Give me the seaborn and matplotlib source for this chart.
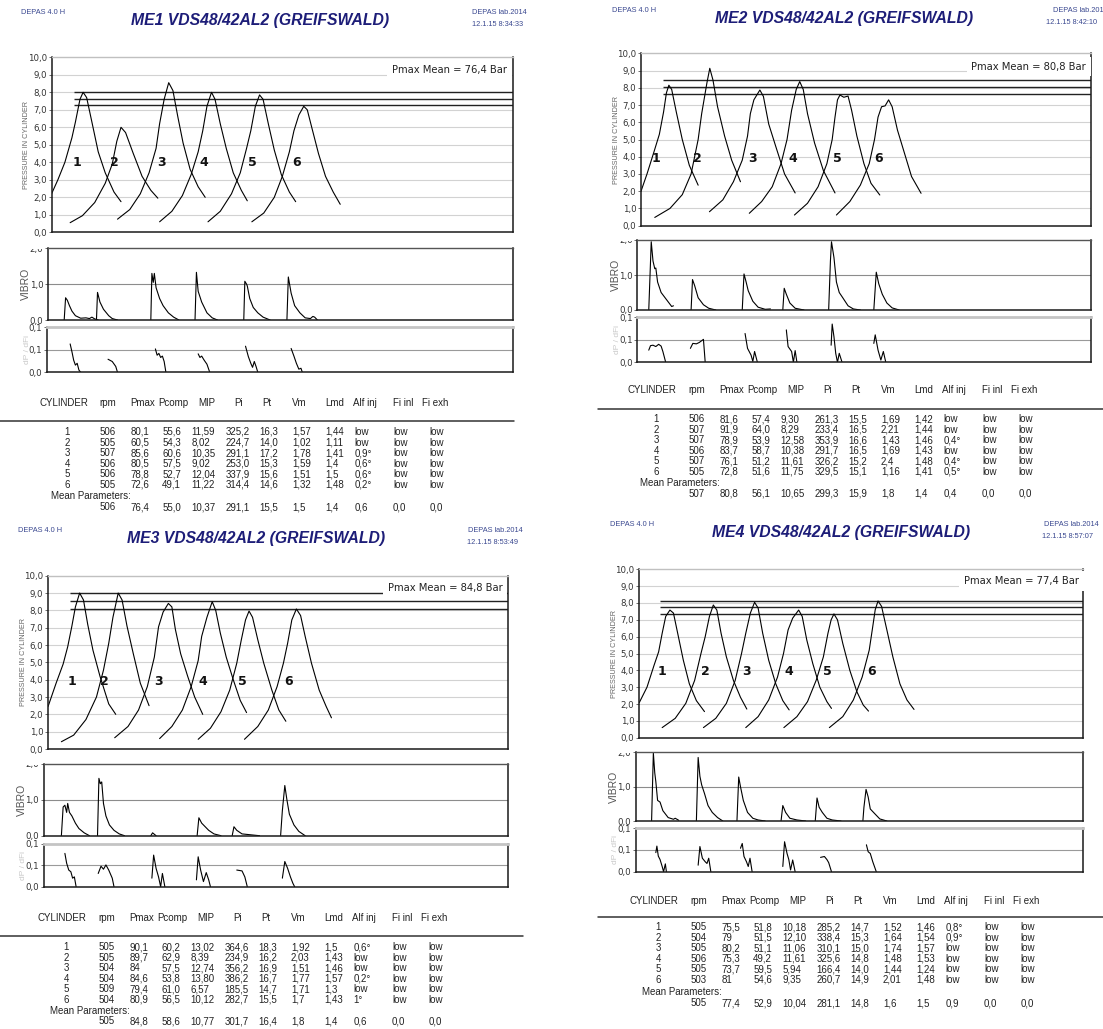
import numpy as np
import pandas as pd
import matplotlib.pyplot as plt
import seaborn as sns
from matplotlib.transforms import Bbox, TransformedBbox

W, H = 1103, 1029

# ---------------- data ----------------
# x = crank position (screen units of the recorder), y = pressure / 10 bar
me1_title = "ME1 VDS48/42AL2 (GREIFSWALD)"
me1_stamp = "12.1.15 8:34:33"
me1_pmax = "Pmax Mean = 76,4 Bar"
me1_press_x = [[147, 165, 185, 205, 215, 228, 237, 247, 262, 280, 300, 325, 345],
               [200, 235, 270, 300, 320, 333, 345, 358, 380, 405, 430, 450],
               [335, 370, 400, 425, 445, 455, 468, 481, 493, 507, 522, 542, 565, 585],
               [455, 490, 520, 545, 565, 578, 590, 603, 613, 628, 645, 665, 688, 705],
               [593, 628, 660, 685, 703, 715, 728, 740, 750, 765, 782, 802, 825, 843],
               [718, 752, 782, 805, 825, 838, 852, 866, 876, 890, 908, 928, 950, 970]]
me1_press_y = [[2.2, 3.0, 4.0, 5.4, 6.3, 7.6, 8.0, 7.7, 6.3, 4.6, 3.4, 2.3, 1.75],
               [0.55, 0.95, 1.7, 2.8, 3.9, 5.2, 6.0, 5.7, 4.5, 3.2, 2.4, 1.95],
               [0.75, 1.3, 2.2, 3.4, 4.8, 6.2, 7.6, 8.55, 8.1, 6.6, 5.1, 3.6, 2.6, 2.0],
               [0.6, 1.2, 2.1, 3.3, 4.6, 5.8, 7.2, 8.0, 7.6, 6.2, 4.8, 3.4, 2.4, 1.8],
               [0.6, 1.2, 2.2, 3.4, 4.8, 5.8, 7.2, 7.85, 7.6, 6.2, 4.7, 3.3, 2.3, 1.75],
               [0.6, 1.1, 2.0, 3.2, 4.6, 5.8, 6.7, 7.2, 7.0, 5.9, 4.5, 3.2, 2.3, 1.6]]
me1_hlines = [8.0, 7.6, 7.25]
me1_label_x = [220, 327, 460, 582, 720, 845]
me1_vib_x = [[183, 187, 192, 198, 205, 215, 230, 245, 255, 262, 270, 280],
             [275, 278, 285, 295, 310, 320, 335],
             [430, 433, 437, 440, 445, 455, 465, 480, 495, 510],
             [556, 560, 565, 575, 590, 605, 620],
             [695, 698, 703, 705, 712, 722, 735, 750, 770],
             [818, 822, 830, 840, 855, 870, 885, 892, 897, 905]]
me1_vib_y = [[0, 0.62, 0.55, 0.4, 0.25, 0.12, 0.05, 0.06, 0.04, 0.08, 0.03, 0],
             [0, 0.77, 0.5, 0.3, 0.12, 0.04, 0],
             [0, 1.3, 1.05, 1.3, 0.9, 0.6, 0.4, 0.2, 0.08, 0],
             [0, 1.33, 0.8, 0.5, 0.2, 0.06, 0],
             [0, 1.08, 1.0, 0.95, 0.6, 0.35, 0.2, 0.08, 0],
             [0, 1.2, 0.75, 0.4, 0.2, 0.06, 0.04, 0.1, 0.08, 0]]
me1_dp_x = [[200, 205, 210, 215, 220, 225, 230],
            [308, 320, 330, 335],
            [443, 448, 453, 458, 463, 468, 473],
            [565, 570, 575, 582, 590, 598],
            [700, 708, 715, 720, 725, 730, 735],
            [830, 838, 845, 852, 858, 862]]
me1_dp_y = [[0.063, 0.046, 0.027, 0.016, 0.02, 0.005, 0],
            [0.029, 0.024, 0.013, 0],
            [0.052, 0.038, 0.042, 0.033, 0.036, 0.024, 0],
            [0.041, 0.033, 0.036, 0.027, 0.018, 0],
            [0.058, 0.035, 0.02, 0.011, 0.024, 0.013, 0],
            [0.053, 0.036, 0.02, 0.007, 0.009, 0]]
me1_rows = [["1", "506", "80,1", "55,6", "11,59", "325,2", "16,3", "1,57", "1,44", "low", "low", "low"],
            ["2", "505", "60,5", "54,3", "8,02", "224,7", "14,0", "1,02", "1,11", "low", "low", "low"],
            ["3", "507", "85,6", "60,6", "10,35", "291,1", "17,2", "1,78", "1,41", "0,9°", "low", "low"],
            ["4", "506", "80,5", "57,5", "9,02", "253,0", "15,3", "1,59", "1,4", "0,6°", "low", "low"],
            ["5", "506", "78,8", "52,7", "12,04", "337,9", "15,6", "1,51", "1,5", "0,6°", "low", "low"],
            ["6", "505", "72,6", "49,1", "11,22", "314,4", "14,6", "1,32", "1,48", "0,2°", "low", "low"]]
me1_mean = ["506", "76,4", "55,0", "10,37", "291,1", "15,5", "1,5", "1,4", "0,6", "0,0", "0,0"]

me2_title = "ME2 VDS48/42AL2 (GREIFSWALD)"
me2_stamp = "12.1.15 8:42:10"
me2_pmax = "Pmax Mean = 80,8 Bar"
me2_press_x = [[258, 275, 295, 310, 322, 330, 337, 345, 358, 375, 395, 420],
               [297, 340, 375, 400, 420, 430, 445, 453, 462, 475, 495, 515, 540],
               [452, 490, 520, 545, 560, 568, 578, 595, 605, 620, 640, 665, 695],
               [565, 600, 630, 655, 672, 685, 698, 708, 718, 730, 750, 775, 808],
               [693, 730, 760, 785, 800, 808, 815, 822, 833, 845, 855, 870, 890, 910, 935],
               [812, 850, 880, 905, 920, 930, 940, 950, 960, 970, 985, 1005, 1025, 1052]]
me2_press_y = [[2.0, 3.0, 4.3, 5.3, 6.6, 7.7, 8.15, 7.9, 6.6, 5.0, 3.5, 2.35],
               [0.48, 1.0, 1.8, 3.0, 5.0, 6.5, 8.3, 9.13, 8.45, 6.9, 5.2, 3.8, 2.55],
               [0.81, 1.5, 2.55, 3.8, 5.2, 6.5, 7.3, 7.87, 7.5, 5.9, 4.6, 3.0, 1.9],
               [0.72, 1.4, 2.26, 3.6, 5.0, 6.7, 7.9, 8.36, 7.9, 6.5, 4.8, 3.2, 1.9],
               [0.62, 1.3, 2.26, 3.6, 5.0, 6.3, 7.3, 7.58, 7.45, 7.52, 6.7, 5.2, 3.6, 2.46, 1.78],
               [0.62, 1.4, 2.36, 3.6, 5.0, 6.3, 6.9, 6.95, 7.3, 6.9, 5.55, 4.2, 2.85, 1.88]]
me2_hlines = [8.45, 8.05, 7.65]
me2_label_x = [300, 418, 573, 689, 815, 932]
me2_vib_x = [[280, 287, 292, 297, 300, 305, 315, 330, 345, 350],
             [400, 404, 410, 420, 435, 450, 470],
             [545, 550, 556, 562, 575, 590, 610, 625],
             [660, 664, 670, 680, 695, 720],
             [790, 795, 798, 805, 812, 820, 830, 845, 860, 880],
             [918, 925, 932, 942, 955, 970, 990]]
me2_vib_y = [[0, 1.95, 1.4, 1.18, 1.2, 0.8, 0.5, 0.3, 0.1, 0.12],
             [0, 0.87, 0.7, 0.35, 0.15, 0.05, 0],
             [0, 1.03, 0.8, 0.55, 0.25, 0.08, 0.02, 0.03],
             [0, 0.62, 0.45, 0.2, 0.05, 0],
             [0, 1.4, 1.95, 1.5, 0.8, 0.5, 0.35, 0.12, 0.03, 0],
             [0, 1.08, 0.75, 0.45, 0.2, 0.06, 0]]
me2_dp_x = [[280, 285, 292, 300, 308, 315, 320, 328],
            [398, 405, 415, 423, 430, 435, 440],
            [553, 560, 570, 575, 580, 588],
            [670, 675, 685, 690, 695, 700],
            [797, 800, 805, 810, 815, 820, 828],
            [918, 922, 930, 938, 945, 952]]
me2_dp_y = [[0.027, 0.037, 0.038, 0.035, 0.04, 0.036, 0.024, 0],
            [0.031, 0.042, 0.041, 0.044, 0.048, 0.051, 0],
            [0.064, 0.031, 0.016, 0.002, 0.024, 0],
            [0.072, 0.035, 0.024, 0.0, 0.026, 0],
            [0.038, 0.085, 0.057, 0.02, 0.0, 0.02, 0],
            [0.042, 0.061, 0.027, 0.005, 0.024, 0]]
me2_rows = [["1", "506", "81,6", "57,4", "9,30", "261,3", "15,5", "1,69", "1,42", "low", "low", "low"],
            ["2", "507", "91,9", "64,0", "8,29", "233,4", "16,5", "2,21", "1,44", "low", "low", "low"],
            ["3", "507", "78,9", "53,9", "12,58", "353,9", "16,6", "1,43", "1,46", "0,4°", "low", "low"],
            ["4", "506", "83,7", "58,7", "10,38", "291,7", "16,5", "1,69", "1,43", "low", "low", "low"],
            ["5", "507", "76,1", "51,2", "11,61", "326,2", "15,2", "2,4", "1,48", "0,4°", "low", "low"],
            ["6", "505", "72,8", "51,6", "11,75", "329,5", "15,1", "1,16", "1,41", "0,5°", "low", "low"]]
me2_mean = ["507", "80,8", "56,1", "10,65", "299,3", "15,9", "1,8", "1,4", "0,4", "0,0", "0,0"]

me3_title = "ME3 VDS48/42AL2 (GREIFSWALD)"
me3_stamp = "12.1.15 8:53:49"
me3_pmax = "Pmax Mean = 84,8 Bar"
me3_press_x = [[137, 160, 180, 193, 205, 215, 227, 238, 250, 265, 285, 310, 330],
               [175, 210, 245, 275, 295, 310, 322, 337, 348, 362, 380, 400, 425],
               [327, 365, 395, 420, 440, 452, 465, 480, 490, 500, 515, 535, 555, 578],
               [455, 490, 520, 545, 565, 575, 590, 605, 615, 628, 645, 665, 685, 703],
               [565, 600, 630, 655, 675, 688, 700, 710, 720, 735, 752, 775, 795, 815],
               [697, 735, 765, 790, 808, 820, 832, 845, 857, 870, 888, 910, 930, 945]]
me3_press_y = [[2.45, 3.8, 4.9, 5.9, 7.1, 8.2, 9.0, 8.6, 7.2, 5.7, 4.2, 2.6, 2.0],
               [0.42, 0.8, 1.7, 3.0, 4.55, 6.1, 7.6, 9.0, 8.6, 7.1, 5.5, 3.8, 2.5],
               [0.65, 1.3, 2.25, 3.6, 5.3, 7.05, 7.9, 8.4, 8.2, 6.9, 5.5, 4.2, 3.0, 2.0],
               [0.6, 1.3, 2.25, 3.6, 5.1, 6.5, 7.6, 8.5, 8.0, 6.7, 5.3, 4.0, 2.8, 2.1],
               [0.56, 1.2, 2.15, 3.4, 4.95, 6.3, 7.45, 7.96, 7.6, 6.3, 4.95, 3.4, 2.25, 1.6],
               [0.56, 1.3, 2.25, 3.6, 4.95, 6.1, 7.45, 8.08, 7.7, 6.5, 4.95, 3.4, 2.45, 1.8]]
me3_hlines = [8.98, 8.52, 8.06]
me3_label_x = [205, 298, 453, 578, 690, 822]
me3_vib_x = [[175, 180, 185, 190, 193, 198, 205, 215, 225, 240, 255],
             [278, 282, 286, 290, 295, 302, 312, 325, 340, 355],
             [430, 435, 440, 445],
             [562, 567, 575, 585, 595, 610, 630],
             [662, 667, 675, 690, 710, 740],
             [800, 805, 812, 818, 825, 838, 852, 870]]
me3_vib_y = [[0, 0.8, 0.85, 0.65, 0.9, 0.65, 0.55, 0.35, 0.2, 0.08, 0],
             [0, 1.6, 1.45, 1.5, 0.9, 0.55, 0.3, 0.15, 0.05, 0],
             [0, 0.08, 0.04, 0],
             [0, 0.5, 0.35, 0.25, 0.15, 0.05, 0],
             [0, 0.25, 0.15, 0.05, 0.03, 0],
             [0, 0.7, 1.4, 1.0, 0.6, 0.3, 0.12, 0]]
me3_dp_x = [[185, 190, 196, 202, 207, 212, 217],
            [280, 288, 295, 302, 310, 320, 325],
            [433, 438, 445, 452, 458, 463, 470],
            [560, 565, 572, 580, 588, 595, 600],
            [675, 690, 698, 705],
            [805, 812, 820, 828, 835, 840]]
me3_dp_y = [[0.078, 0.055, 0.039, 0.035, 0.02, 0.023, 0],
            [0.031, 0.048, 0.041, 0.051, 0.039, 0.02, 0],
            [0.02, 0.074, 0.043, 0.023, 0, 0.031, 0],
            [0.016, 0.07, 0.039, 0.012, 0.033, 0.016, 0],
            [0.039, 0.037, 0.023, 0],
            [0.02, 0.059, 0.043, 0.023, 0.008, 0]]
me3_rows = [["1", "505", "90,1", "60,2", "13,02", "364,6", "18,3", "1,92", "1,5", "0,6°", "low", "low"],
            ["2", "505", "89,7", "62,9", "8,39", "234,9", "16,2", "2,03", "1,43", "low", "low", "low"],
            ["3", "504", "84", "57,5", "12,74", "356,2", "16,9", "1,51", "1,46", "low", "low", "low"],
            ["4", "504", "84,6", "53,8", "13,80", "386,2", "16,7", "1,77", "1,57", "0,2°", "low", "low"],
            ["5", "509", "79,4", "61,0", "6,57", "185,5", "14,7", "1,71", "1,3", "low", "low", "low"],
            ["6", "504", "80,9", "56,5", "10,12", "282,7", "15,5", "1,7", "1,43", "1°", "low", "low"]]
me3_mean = ["505", "84,8", "58,6", "10,77", "301,7", "16,4", "1,8", "1,4", "0,6", "0,0", "0,0"]

me4_title = "ME4 VDS48/42AL2 (GREIFSWALD)"
me4_stamp = "12.1.15 8:57:07"
me4_pmax = "Pmax Mean = 77,4 Bar"
me4_press_x = [[253, 275, 295, 308, 318, 328, 340, 350, 362, 378, 395, 415, 438],
               [318, 355, 385, 410, 428, 440, 452, 463, 473, 485, 500, 520, 540, 558],
               [435, 470, 500, 525, 543, 555, 568, 580, 590, 603, 620, 640, 660, 678],
               [555, 590, 620, 645, 662, 675, 688, 705, 715, 728, 745, 765, 785, 798],
               [663, 700, 730, 755, 775, 788, 797, 805, 815, 830, 850, 870, 888, 903],
               [792, 830, 860, 885, 905, 915, 922, 930, 940, 955, 972, 992, 1012, 1032]]
me4_press_y = [[2.08, 3.0, 4.3, 5.1, 6.2, 7.2, 7.58, 7.4, 6.2, 4.6, 3.2, 2.2, 1.55],
               [0.6, 1.15, 2.04, 3.4, 5.0, 6.0, 7.2, 7.88, 7.58, 6.2, 4.8, 3.4, 2.4, 1.7],
               [0.6, 1.15, 2.04, 3.4, 5.0, 6.2, 7.4, 8.04, 7.7, 6.2, 4.6, 3.2, 2.2, 1.65],
               [0.6, 1.25, 2.24, 3.6, 5.0, 6.4, 7.1, 7.58, 7.2, 5.8, 4.4, 3.0, 2.14, 1.74],
               [0.6, 1.25, 2.14, 3.43, 4.8, 6.2, 7.0, 7.35, 7.0, 5.6, 4.0, 2.73, 1.94, 1.58],
               [0.6, 1.25, 2.24, 3.6, 5.2, 6.6, 7.6, 8.12, 7.8, 6.4, 4.8, 3.2, 2.24, 1.68]]
me4_hlines = [8.14, 7.78, 7.37]
me4_label_x = [318, 440, 558, 677, 785, 912]
me4_vib_x = [[288, 293, 297, 300, 305, 312, 320, 335, 350, 355, 365],
             [415, 420, 425, 430, 438, 448, 460, 475, 490],
             [530, 535, 540, 548, 560, 575, 590, 610],
             [655, 660, 668, 680, 700, 725],
             [752, 757, 763, 772, 785, 800, 825],
             [887, 890, 896, 902, 908, 920, 935, 955]]
me4_vib_y = [[0, 1.98, 1.4, 1.15, 0.6, 0.55, 0.3, 0.1, 0.05, 0.08, 0.02],
             [0, 1.85, 1.3, 1.05, 0.8, 0.45, 0.25, 0.1, 0],
             [0, 1.28, 1.0, 0.6, 0.25, 0.08, 0.03, 0],
             [0, 0.45, 0.25, 0.08, 0.03, 0],
             [0, 0.67, 0.4, 0.25, 0.08, 0.03, 0],
             [0, 0.4, 0.92, 0.7, 0.35, 0.22, 0.06, 0]]
me4_dp_x = [[300, 303, 307, 312, 318, 322, 327, 330],
            [420, 425, 432, 440, 445, 450, 456],
            [540, 545, 550, 557, 562, 567, 573],
            [660, 665, 672, 677, 682, 688, 695],
            [767, 778, 785, 790, 798],
            [897, 902, 908, 915, 925]]
me4_dp_y = [[0.044, 0.059, 0.036, 0.028, 0.012, 0, 0.018, 0],
            [0.015, 0.058, 0.031, 0.023, 0.019, 0.031, 0],
            [0.054, 0.065, 0.035, 0.023, 0.012, 0.031, 0],
            [0.012, 0.069, 0.042, 0.028, 0.004, 0.027, 0],
            [0.033, 0.035, 0.028, 0.021, 0],
            [0.062, 0.046, 0.042, 0.023, 0]]
me4_rows = [["1", "505", "75,5", "51,8", "10,18", "285,2", "14,7", "1,52", "1,46", "0,8°", "low", "low"],
            ["2", "504", "79", "51,5", "12,10", "338,4", "15,3", "1,64", "1,54", "0,9°", "low", "low"],
            ["3", "505", "80,2", "51,1", "11,06", "310,1", "15,0", "1,74", "1,57", "low", "low", "low"],
            ["4", "506", "75,3", "49,2", "11,61", "325,6", "14,8", "1,48", "1,53", "low", "low", "low"],
            ["5", "505", "73,7", "59,5", "5,94", "166,4", "14,0", "1,44", "1,24", "low", "low", "low"],
            ["6", "503", "81", "54,6", "9,35", "260,7", "14,9", "2,01", "1,48", "low", "low", "low"]]
me4_mean = ["505", "77,4", "52,9", "10,04", "281,1", "14,8", "1,6", "1,5", "0,9", "0,0", "0,0"]

table_header = ["CYLINDER", "rpm", "Pmax", "Pcomp", "MIP", "Pi", "Pt", "Vm", "Lmd", "Alf inj", "Fi inl", "Fi exh"]
press_ticks = [0, 1, 2, 3, 4, 5, 6, 7, 8, 9, 10]
press_tick_labels = ["0,0", "1,0", "2,0", "3,0", "4,0", "5,0", "6,0", "7,0", "8,0", "9,0", "10,0"]
vib_ticks = [0, 1, 2]
vib_tick_labels = ["0,0", "1,0", "2,0"]
dp_ticks = [0, 0.05, 0.1]
dp_tick_labels = ["0,0", "0,1", "0,1"]

# ---------------- layout (pixels of the 1103x1029 sheet) ----------------
layout = [
    dict(ox=0, sc=2.851, hdr=(21, 12, 259.6, 20, 527, 12, 523, 24, 'right'),
         p_xlim=(147, 1462), p_y=(57.3, 232.3), v_xlim=(137, 1462), v_y=(248.3, 320),
         d_xlim=(135, 1462), d_y=(327.3, 372.3), lab_y=4.0, hl_x0=210, pm=(1445, 9.28),
         tab=(39, 403, 421, 0, 514, 432, 496, 507)),
    dict(ox=550, sc=2.835, hdr=(611.7, 10, 844.5, 18, 1052.6, 10, 1045.6, 22, 'left'),
         p_xlim=(258, 1535), p_y=(53.3, 225.7), v_xlim=(248, 1535), v_y=(240, 310),
         d_xlim=(248, 1535), d_y=(317.3, 362.3), lab_y=3.9, hl_x0=320, pm=(1520, 9.23),
         tab=(628, 390, 409, 597.6, 1103, 419, 483, 494)),
    dict(ox=0, sc=2.851, hdr=(17.5, 530, 256, 538, 523, 530, 518, 543, 'right'),
         p_xlim=(137, 1448), p_y=(575.7, 749), v_xlim=(125, 1448), v_y=(764, 835.7),
         d_xlim=(125, 1448), d_y=(844, 886.7), lab_y=3.9, hl_x0=200, pm=(1432, 9.3),
         tab=(38, 918, 936, 0, 523, 947, 1011, 1021)),
    dict(ox=550, sc=2.835, hdr=(610, 525, 841, 533, 1098.5, 525, 1093, 537, 'right'),
         p_xlim=(253, 1512), p_y=(569.3, 737.7), v_xlim=(243, 1512), v_y=(752.3, 821),
         d_xlim=(243, 1512), d_y=(828.3, 871.7), lab_y=3.92, hl_x0=313, pm=(1500, 9.3),
         tab=(630, 901, 917, 597.6, 1103, 927, 992, 1003)),
]
col_off = [31, 60.7, 91.4, 123.1, 152.4, 186.6, 220.5, 252.9, 286.4, 315.3, 354.1, 390.5]
hdr_off = [0, 60.7, 91.4, 119.5, 159.4, 195.4, 223.6, 252.9, 286.4, 313.6, 354.1, 382.7]
ROW_STEP = 10.6
TFS = 7.0

sns.set_style("white")
plt.rcParams['font.family'] = ['Liberation Sans', 'DejaVu Sans']

fig = plt.figure(figsize=(W / 100, H / 100), dpi=100)


def fx(x):
    return x / W


def fy(y):
    return 1 - y / H


def add_ax(x0, y0, x1, y1):
    return fig.add_axes([x0 / W, 1 - y1 / H, (x1 - x0) / W, (y1 - y0) / H])


def frame(ax, top_color='#1a1a1a', top_lw=1.0):
    for side in ['left', 'bottom', 'right']:
        ax.spines[side].set_color('#1a1a1a')
        ax.spines[side].set_linewidth(1.1)
    ax.spines['top'].set_color(top_color)
    ax.spines['top'].set_linewidth(top_lw)
    ax.set_xticks([])
    ax.tick_params(axis='y', length=2.5, width=0.6, color='#555', labelsize=6.2,
                   labelcolor='#333', pad=1, left=True)
    ax.set_xlabel('')
    ax.set_ylabel('')


def draw_lines(ax, xs_list, ys_list, lw=0.8):
    for xs, ys in zip(xs_list, ys_list):
        sns.lineplot(x=xs, y=ys, ax=ax, color='black', linewidth=lw,
                     sort=False, estimator=None, legend=False)


panels = [
    (me1_title, me1_stamp, me1_pmax, me1_press_x, me1_press_y, me1_hlines, me1_label_x,
     me1_vib_x, me1_vib_y, me1_dp_x, me1_dp_y, me1_rows, me1_mean),
    (me2_title, me2_stamp, me2_pmax, me2_press_x, me2_press_y, me2_hlines, me2_label_x,
     me2_vib_x, me2_vib_y, me2_dp_x, me2_dp_y, me2_rows, me2_mean),
    (me3_title, me3_stamp, me3_pmax, me3_press_x, me3_press_y, me3_hlines, me3_label_x,
     me3_vib_x, me3_vib_y, me3_dp_x, me3_dp_y, me3_rows, me3_mean),
    (me4_title, me4_stamp, me4_pmax, me4_press_x, me4_press_y, me4_hlines, me4_label_x,
     me4_vib_x, me4_vib_y, me4_dp_x, me4_dp_y, me4_rows, me4_mean),
]

for lay, pan in zip(layout, panels):
    (title, stamp, pmax, px, py, hl, labx, vx, vy, dx, dy, rows, mean) = pan
    ox, sc = lay['ox'], lay['sc']

    # header texts
    h = lay['hdr']
    fig.text(fx(h[0]), fy(h[1]), "DEPAS 4.0 H", fontsize=5.3, color='#3a4890', va='center')
    fig.text(fx(h[2]), fy(h[3]), title, fontsize=11.3, fontweight='bold', fontstyle='italic',
             color='#1d1d78', ha='center', va='center')
    fig.text(fx(h[4]), fy(h[5]), "DEPAS lab.2014", fontsize=5.3, color='#3a4890', ha=h[8], va='center')
    fig.text(fx(h[6]), fy(h[7]), stamp, fontsize=5.3, color='#3a4890', ha=h[8], va='center')

    # pressure in cylinder
    xl = lay['p_xlim']
    ax = add_ax(ox + xl[0] / sc, lay['p_y'][0], ox + xl[1] / sc, lay['p_y'][1])
    for v in press_ticks[1:-1]:
        ax.axhline(v, color='#d2d2d2', lw=0.8, zorder=0)
    ax.hlines(hl, lay['hl_x0'], xl[1], color='#222222', lw=1.0, zorder=2)
    draw_lines(ax, px, py)
    for i, x in enumerate(labx):
        ax.text(x, lay['lab_y'], str(i + 1), fontsize=9, fontweight='bold',
                family='DejaVu Sans', ha='center', va='center', color='#111')
    ax.text(lay['pm'][0], lay['pm'][1], pmax, fontsize=7.2, family='DejaVu Sans',
            ha='right', va='center', color='#222', zorder=5,
            bbox=dict(facecolor='white', edgecolor='none', pad=3.5))
    ax.set_xlim(*xl)
    ax.set_ylim(0, 10)
    frame(ax, top_color='#c0c0c0', top_lw=1.0)
    ax.set_yticks(press_ticks)
    ax.set_yticklabels(press_tick_labels, family='DejaVu Sans')
    ax.annotate("PRESSURE IN CYLINDER", xy=(0, 0.5), xycoords='axes fraction',
                xytext=(-25, 0), textcoords='offset pixels', rotation=90,
                ha='center', va='center', fontsize=5.2, color='#666')

    # vibro
    xl = lay['v_xlim']
    ax = add_ax(ox + xl[0] / sc, lay['v_y'][0], ox + xl[1] / sc, lay['v_y'][1])
    ax.axhline(1.0, color='#8c8c8c', lw=0.8, zorder=0)
    draw_lines(ax, vx, vy, lw=0.8)
    ax.set_xlim(*xl)
    ax.set_ylim(0, 2.0)
    frame(ax, top_color='#555555', top_lw=1.0)
    ax.set_yticks(vib_ticks)
    top_lab = ax.set_yticklabels(vib_tick_labels, family='DejaVu Sans')[-1]
    # the top "2,0" is cut by the frame in the recorder screenshot
    top_lab.set_clip_on(True)
    top_lab.set_clip_box(TransformedBbox(Bbox([[-0.2, -0.1], [0.02, 0.985]]), ax.transAxes))
    ax.annotate("VIBRO", xy=(0, 0.5), xycoords='axes fraction',
                xytext=(-22, 0), textcoords='offset pixels', rotation=90,
                ha='center', va='center', fontsize=7.5, color='#555')

    # dP / dFi
    xl = lay['d_xlim']
    ax = add_ax(ox + xl[0] / sc, lay['d_y'][0], ox + xl[1] / sc, lay['d_y'][1])
    ax.axhline(0.05, color='#9a9a9a', lw=0.8, zorder=0)
    draw_lines(ax, dx, dy, lw=0.8)
    ax.set_xlim(*xl)
    ax.set_ylim(0, 0.1)
    frame(ax, top_color='#c4c4c4', top_lw=2.0)
    ax.set_yticks(dp_ticks)
    ax.set_yticklabels(dp_tick_labels, family='DejaVu Sans')
    ax.annotate("dP / dFi", xy=(0, 0.5), xycoords='axes fraction',
                xytext=(-20, 0), textcoords='offset pixels', rotation=90,
                ha='center', va='center', fontsize=6, color='#c8c8c8')

    # parameter table
    a, y_hdr, y_line, lx0, lx1, y_row0, y_ml, y_mean = lay['tab']
    for off, word in zip(hdr_off, table_header):
        fig.text(fx(a + off), fy(y_hdr), word, fontsize=TFS, color='#222', va='center')
    fig.add_artist(plt.Line2D([fx(lx0), fx(lx1)], [fy(y_line)] * 2, color='#333', lw=1.1))
    for r, row in enumerate(rows):
        yy = fy(y_row0 + r * ROW_STEP)
        for c, (off, val) in enumerate(zip(col_off, row)):
            fig.text(fx(a + off), yy, val, fontsize=TFS, color='#222', va='center',
                     ha='right' if c == 0 else 'left')
    fig.text(fx(a + 12), fy(y_ml), "Mean Parameters:", fontsize=TFS, color='#222', va='center')
    for off, val in zip(col_off[1:], mean):
        fig.text(fx(a + off), fy(y_mean), val, fontsize=TFS, color='#222', va='center')

fig.savefig('out.png', dpi=100, facecolor='white')
